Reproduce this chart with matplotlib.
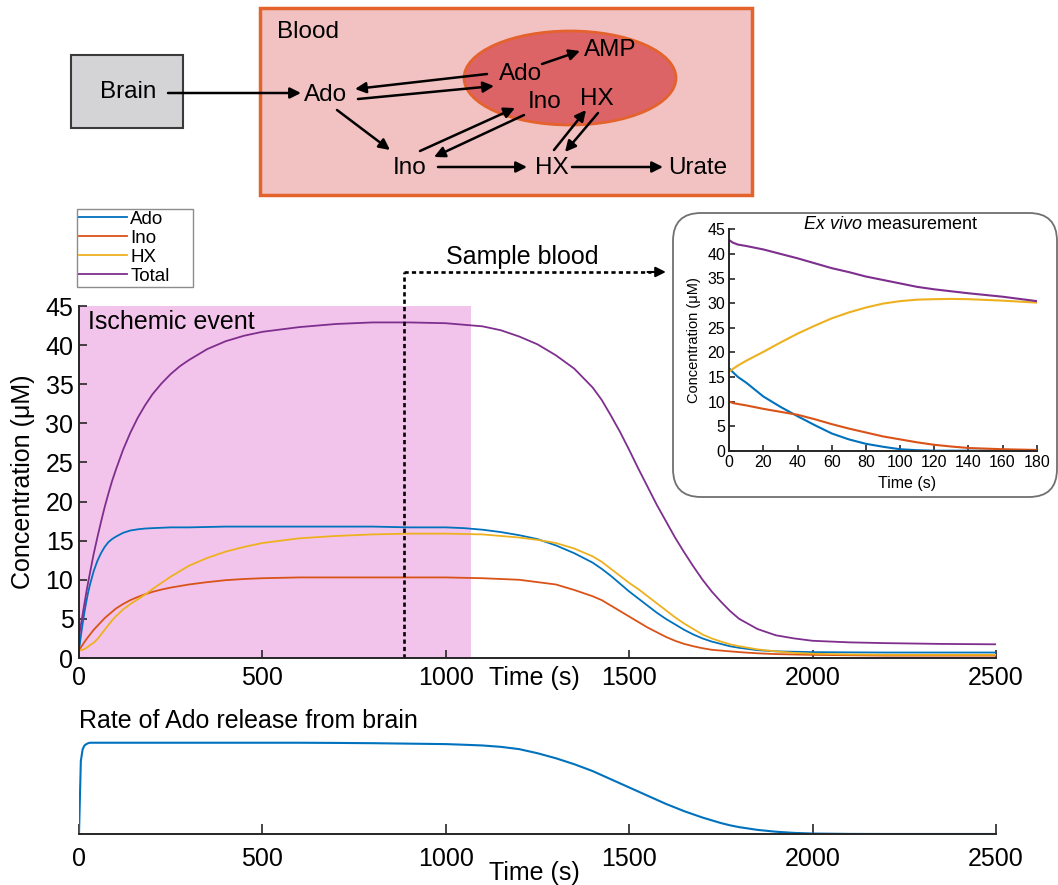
import matplotlib.pyplot as plt
import matplotlib.patches as mpatches
from matplotlib.lines import Line2D

plt.rcParams['font.family'] = ['Liberation Sans', 'DejaVu Sans']
plt.rcParams['mathtext.fontset'] = 'custom'
plt.rcParams['mathtext.rm'] = 'Liberation Sans'
plt.rcParams['mathtext.it'] = 'Liberation Sans:italic'

# --- in vivo simulation (time in s, concentrations in uM) ---
# sample times: rise, plateau, wash-out
t_rise = [0, 5, 10, 15, 20, 25, 30, 40, 50, 60, 70, 80, 90, 100, 120, 140,
          160, 180, 200, 225, 250, 275, 300, 350, 400, 450, 500]
t_plateau = [600, 700, 800, 900, 1000, 1050, 1100]
t_fall = [1150, 1200, 1250, 1300, 1350, 1400, 1425, 1450, 1475, 1500, 1525,
          1550, 1575, 1600, 1625, 1650, 1675, 1700, 1725, 1750, 1775, 1800,
          1850, 1900, 1950, 2000, 2100, 2200, 2350, 2500]
time_s = t_rise + t_plateau + t_fall

ado = ([1.0, 2.8, 4.4, 5.9, 7.2, 8.4, 9.4, 11.1, 12.4, 13.4, 14.2, 14.8, 15.2,
        15.5, 16.0, 16.3, 16.45, 16.55, 16.6, 16.65, 16.7, 16.7, 16.7, 16.75,
        16.8, 16.8, 16.8]
       + [16.8, 16.8, 16.8, 16.7, 16.7, 16.6, 16.4]
       + [16.1, 15.7, 15.2, 14.4, 13.4, 12.2, 11.4, 10.5, 9.5, 8.5, 7.6, 6.7,
          5.8, 5.0, 4.3, 3.6, 3.0, 2.5, 2.1, 1.8, 1.5, 1.3, 1.0, 0.85, 0.8,
          0.75, 0.72, 0.7, 0.7, 0.7])
ino = ([1.0, 1.35, 1.7, 2.05, 2.4, 2.7, 3.0, 3.6, 4.1, 4.6, 5.1, 5.5, 5.9,
        6.3, 6.9, 7.4, 7.8, 8.15, 8.45, 8.75, 9.0, 9.2, 9.4, 9.7, 9.95, 10.1,
        10.2]
       + [10.3, 10.3, 10.3, 10.3, 10.3, 10.25, 10.2]
       + [10.1, 10.0, 9.7, 9.4, 8.7, 7.9, 7.4, 6.7, 6.0, 5.3, 4.6, 3.9, 3.3,
          2.7, 2.2, 1.8, 1.5, 1.25, 1.05, 0.95, 0.85, 0.75, 0.6, 0.5, 0.45,
          0.4, 0.35, 0.3, 0.3, 0.3])
hx = ([1.0, 1.0, 1.05, 1.15, 1.3, 1.45, 1.65, 1.95, 2.4, 3.0, 3.6, 4.2, 4.8,
       5.3, 6.2, 6.9, 7.5, 8.1, 8.8, 9.6, 10.4, 11.1, 11.8, 12.8, 13.6, 14.2,
       14.7]
      + [15.3, 15.6, 15.8, 15.9, 15.9, 15.85, 15.8]
      + [15.6, 15.4, 15.1, 14.7, 14.0, 13.0, 12.3, 11.4, 10.5, 9.6, 8.8, 7.9,
         7.0, 6.1, 5.2, 4.4, 3.7, 3.0, 2.5, 2.1, 1.75, 1.5, 1.1, 0.85, 0.65,
         0.55, 0.45, 0.4, 0.4, 0.4])
total = ([2.7, 4.2, 5.6, 7.0, 8.4, 9.7, 10.9, 13.3, 15.4, 17.4, 19.3, 21.0,
          22.6, 24.0, 26.6, 28.8, 30.7, 32.3, 33.7, 35.1, 36.3, 37.3, 38.1,
          39.5, 40.5, 41.2, 41.7]
         + [42.3, 42.7, 42.9, 42.9, 42.8, 42.6, 42.4]
         + [41.9, 41.1, 40.1, 38.7, 37.0, 34.6, 33.0, 31.0, 28.9, 26.6, 24.2,
            21.9, 19.6, 17.5, 15.4, 13.5, 11.7, 10.0, 8.5, 7.2, 6.0, 5.0, 3.7,
            2.9, 2.5, 2.2, 2.0, 1.9, 1.8, 1.75])
# normalised rate of Ado release from brain
rate = ([0.0, 0.8, 0.93, 0.97, 0.985, 0.995, 1.0, 1.0, 1.0, 1.0, 1.0, 1.0,
         1.0, 1.0, 1.0, 1.0, 1.0, 1.0, 1.0, 1.0, 1.0, 1.0, 1.0, 1.0, 1.0, 1.0,
         1.0]
        + [1.0, 0.998, 0.995, 0.99, 0.985, 0.978, 0.97]
        + [0.955, 0.93, 0.885, 0.83, 0.765, 0.69, 0.645, 0.6, 0.555, 0.51,
           0.465, 0.42, 0.375, 0.33, 0.29, 0.25, 0.215, 0.18, 0.15, 0.12,
           0.095, 0.075, 0.045, 0.025, 0.012, 0.005, 0.001, 0.0, 0.0, 0.0])

ischemia_end = 1070
t_sample = 885

# --- ex vivo measurement ---
exvivo_t = [0, 2, 5, 10, 20, 30, 40, 50, 60, 70, 80, 90, 100, 110, 120, 130,
            140, 160, 180]
ev_total = [42.8, 42.3, 41.9, 41.6, 40.9, 40.0, 39.1, 38.1, 37.1, 36.3, 35.4,
            34.7, 34.0, 33.3, 32.8, 32.4, 32.0, 31.3, 30.4]
ev_hx = [16.1, 16.6, 17.3, 18.3, 20.1, 22.0, 23.8, 25.4, 26.9, 28.1, 29.1,
         29.9, 30.4, 30.7, 30.8, 30.85, 30.8, 30.5, 30.1]
ev_ado = [16.7, 16.0, 15.0, 13.8, 11.0, 8.9, 7.0, 5.2, 3.5, 2.3, 1.4, 0.8, 0.3,
          0.1, 0.0, 0.0, 0.0, 0.0, 0.0]
ev_ino = [10.0, 9.7, 9.5, 9.2, 8.5, 7.9, 7.3, 6.4, 5.4, 4.5, 3.7, 2.9, 2.3,
          1.7, 1.2, 0.85, 0.55, 0.3, 0.15]

names = ['Ado', 'Ino', 'HX', 'Total']
colors = ['#0072BD', '#D95319', '#EDB120', '#7E2F8E']
ax_col = '#262626'

fig = plt.figure(figsize=(10.58, 8.85), dpi=100)
W, H = 1058, 885


def px_axes(left, top, right, bottom):
    return fig.add_axes([left / W, 1 - bottom / H, (right - left) / W,
                         (bottom - top) / H])


def style(ax, size, length):
    for s in ['top', 'right']:
        ax.spines[s].set_visible(False)
    for s in ['left', 'bottom']:
        ax.spines[s].set_color(ax_col)
        ax.spines[s].set_linewidth(1.4)
    ax.tick_params(direction='in', length=length, width=1.2, colors=ax_col,
                   labelsize=size, labelcolor='black')


# ---- main panel ----
ax = px_axes(79, 306, 996, 658)
ax.set_facecolor('none')
ax.axvspan(0, ischemia_end, color='#f3c4eb', lw=0, zorder=0)
for y, c in zip([ado, ino, hx, total], colors):
    ax.plot(time_s, y, color=c, lw=1.3)
ax.set_xlim(0, 2500)
ax.set_ylim(0, 45)
ax.set_xticks(range(0, 2501, 500))
ax.set_yticks(range(0, 46, 5))
style(ax, 18, 6)
ax.tick_params(axis='x', pad=6)
ax.tick_params(axis='y', pad=4)
ax.set_ylabel('Concentration (\u03bcM)', fontsize=18, va='center')
ax.yaxis.set_label_coords(-0.061, 0.5)
ax.set_xlabel('Time (s)', fontsize=18, va='center')
ax.xaxis.set_label_coords(0.497, -0.057)
ax.text(0.01, 0.955, 'Ischemic event', transform=ax.transAxes, fontsize=18,
        va='center', ha='left')

# sampling path
y_top = 49.35
dash = dict(color='black', lw=1.9, ls=(0, (1.6, 1.2)), clip_on=False)
ax.plot([t_sample, t_sample], [0, y_top], **dash)
ax.plot([t_sample, 1560], [y_top, y_top], **dash)
ax.annotate('', xy=(1600, y_top), xytext=(1550, y_top),
            arrowprops=dict(arrowstyle='-|>', color='black', lw=1.5,
                            mutation_scale=15, shrinkA=0, shrinkB=0),
            annotation_clip=False)
ax.text(1208, 51.3, 'Sample blood', fontsize=18, ha='center', va='center',
        clip_on=False)

handles = [Line2D([], [], color=c, lw=1.3) for c in colors]
leg = ax.legend(handles, names, loc='upper left', mode='expand',
                bbox_to_anchor=(77 / W, 1 - 290 / H, 116 / W, 81 / H),
                bbox_transform=fig.transFigure, fontsize=13.5,
                handlelength=2.55, handletextpad=0.2, labelspacing=0.1,
                borderpad=0.1, borderaxespad=0, fancybox=False, framealpha=1)
leg.get_frame().set_edgecolor('#8c8c8c')
leg.get_frame().set_linewidth(1.0)

# ---- ex vivo inset ----
axi = px_axes(729.3, 229.3, 1036.7, 450.7)
for y, c in zip([ev_ado, ev_ino, ev_hx, ev_total], colors):
    axi.plot(exvivo_t, y, color=c, lw=1.5)
axi.set_xlim(0, 180)
axi.set_ylim(0, 45)
axi.set_xticks(range(0, 181, 20))
axi.set_yticks(range(0, 46, 5))
style(axi, 11.5, 4)
axi.tick_params(pad=3)
axi.set_ylabel('Concentration (\u03bcM)', fontsize=10.5, va='center')
axi.yaxis.set_label_coords(-0.116, 0.5)
axi.set_xlabel('Time (s)', fontsize=11.5, va='center')
axi.xaxis.set_label_coords(0.578, -0.147)
axi.text(0.525, 1.02, r'$\mathit{Ex\ vivo}$ measurement', fontsize=13,
         transform=axi.transAxes, ha='center', va='center')

# ---- rate of release ----
axb = px_axes(79, 740, 996, 834)
axb.plot(time_s, rate, color='#0072BD', lw=1.5)
axb.set_xlim(0, 2500)
axb.set_ylim(0, 1.03)
axb.set_xticks(range(0, 2501, 500))
axb.set_yticks([])
style(axb, 18, 7)
axb.spines['left'].set_visible(False)
axb.tick_params(axis='x', pad=9)
axb.set_xlabel('Time (s)', fontsize=18, va='center')
axb.xaxis.set_label_coords(0.497, -0.415)
axb.text(0, 1.2, 'Rate of Ado release from brain', transform=axb.transAxes,
         fontsize=18, ha='left', va='center')

# ---- overlay: schematic and inset frame (pixel coordinates) ----
ov = fig.add_axes([0, 0, 1, 1], zorder=5)
ov.set_xlim(0, W)
ov.set_ylim(H, 0)
ov.axis('off')

ov.add_patch(mpatches.FancyBboxPatch((673, 213), 384, 284,
                                     boxstyle='round,pad=0,rounding_size=28',
                                     fc='none', ec='#707070', lw=1.3))

ov.add_patch(mpatches.Rectangle((71, 55), 112, 73, fc='#d4d4d7', ec='#3a3a3a',
                                lw=1.5))
ov.add_patch(mpatches.Rectangle((260, 8), 492, 187, fc='#f2c1c1', ec='#e4622c',
                                lw=2.5))
ov.add_patch(mpatches.Ellipse((570, 78), 212, 94, fc='#dc6467', ec='#e4622c',
                              lw=2))

labels = [('Brain', 128, 92), ('Blood', 277, 32), ('Ado', 326, 95),
          ('Ado', 521, 74), ('AMP', 610, 50), ('Ino', 545, 102),
          ('HX', 597, 99), ('Ino', 410, 168), ('HX', 552, 168),
          ('Urate', 698, 168)]
for txt, x, y in labels:
    ha = 'left' if txt == 'Blood' else 'center'
    ov.text(x, y, txt, fontsize=17.5, ha=ha, va='center')

links = [((168, 93), (301, 93)), ((487, 74), (355, 89)),
         ((358, 99), (494, 86)), ((542, 64), (580, 51)),
         ((337, 110), (390, 150)), ((420, 151), (515, 108)),
         ((524, 115), (434, 157)), ((554, 150), (586, 110)),
         ((598, 113), (565, 152)), ((438, 167), (527, 167)),
         ((572, 167), (663, 167))]
for (x0, y0), (x1, y1) in links:
    ov.annotate('', xy=(x1, y1), xytext=(x0, y0),
                arrowprops=dict(arrowstyle='-|>', color='black', lw=1.8,
                                mutation_scale=16, shrinkA=0, shrinkB=0))

fig.savefig('out.png', dpi=100)
